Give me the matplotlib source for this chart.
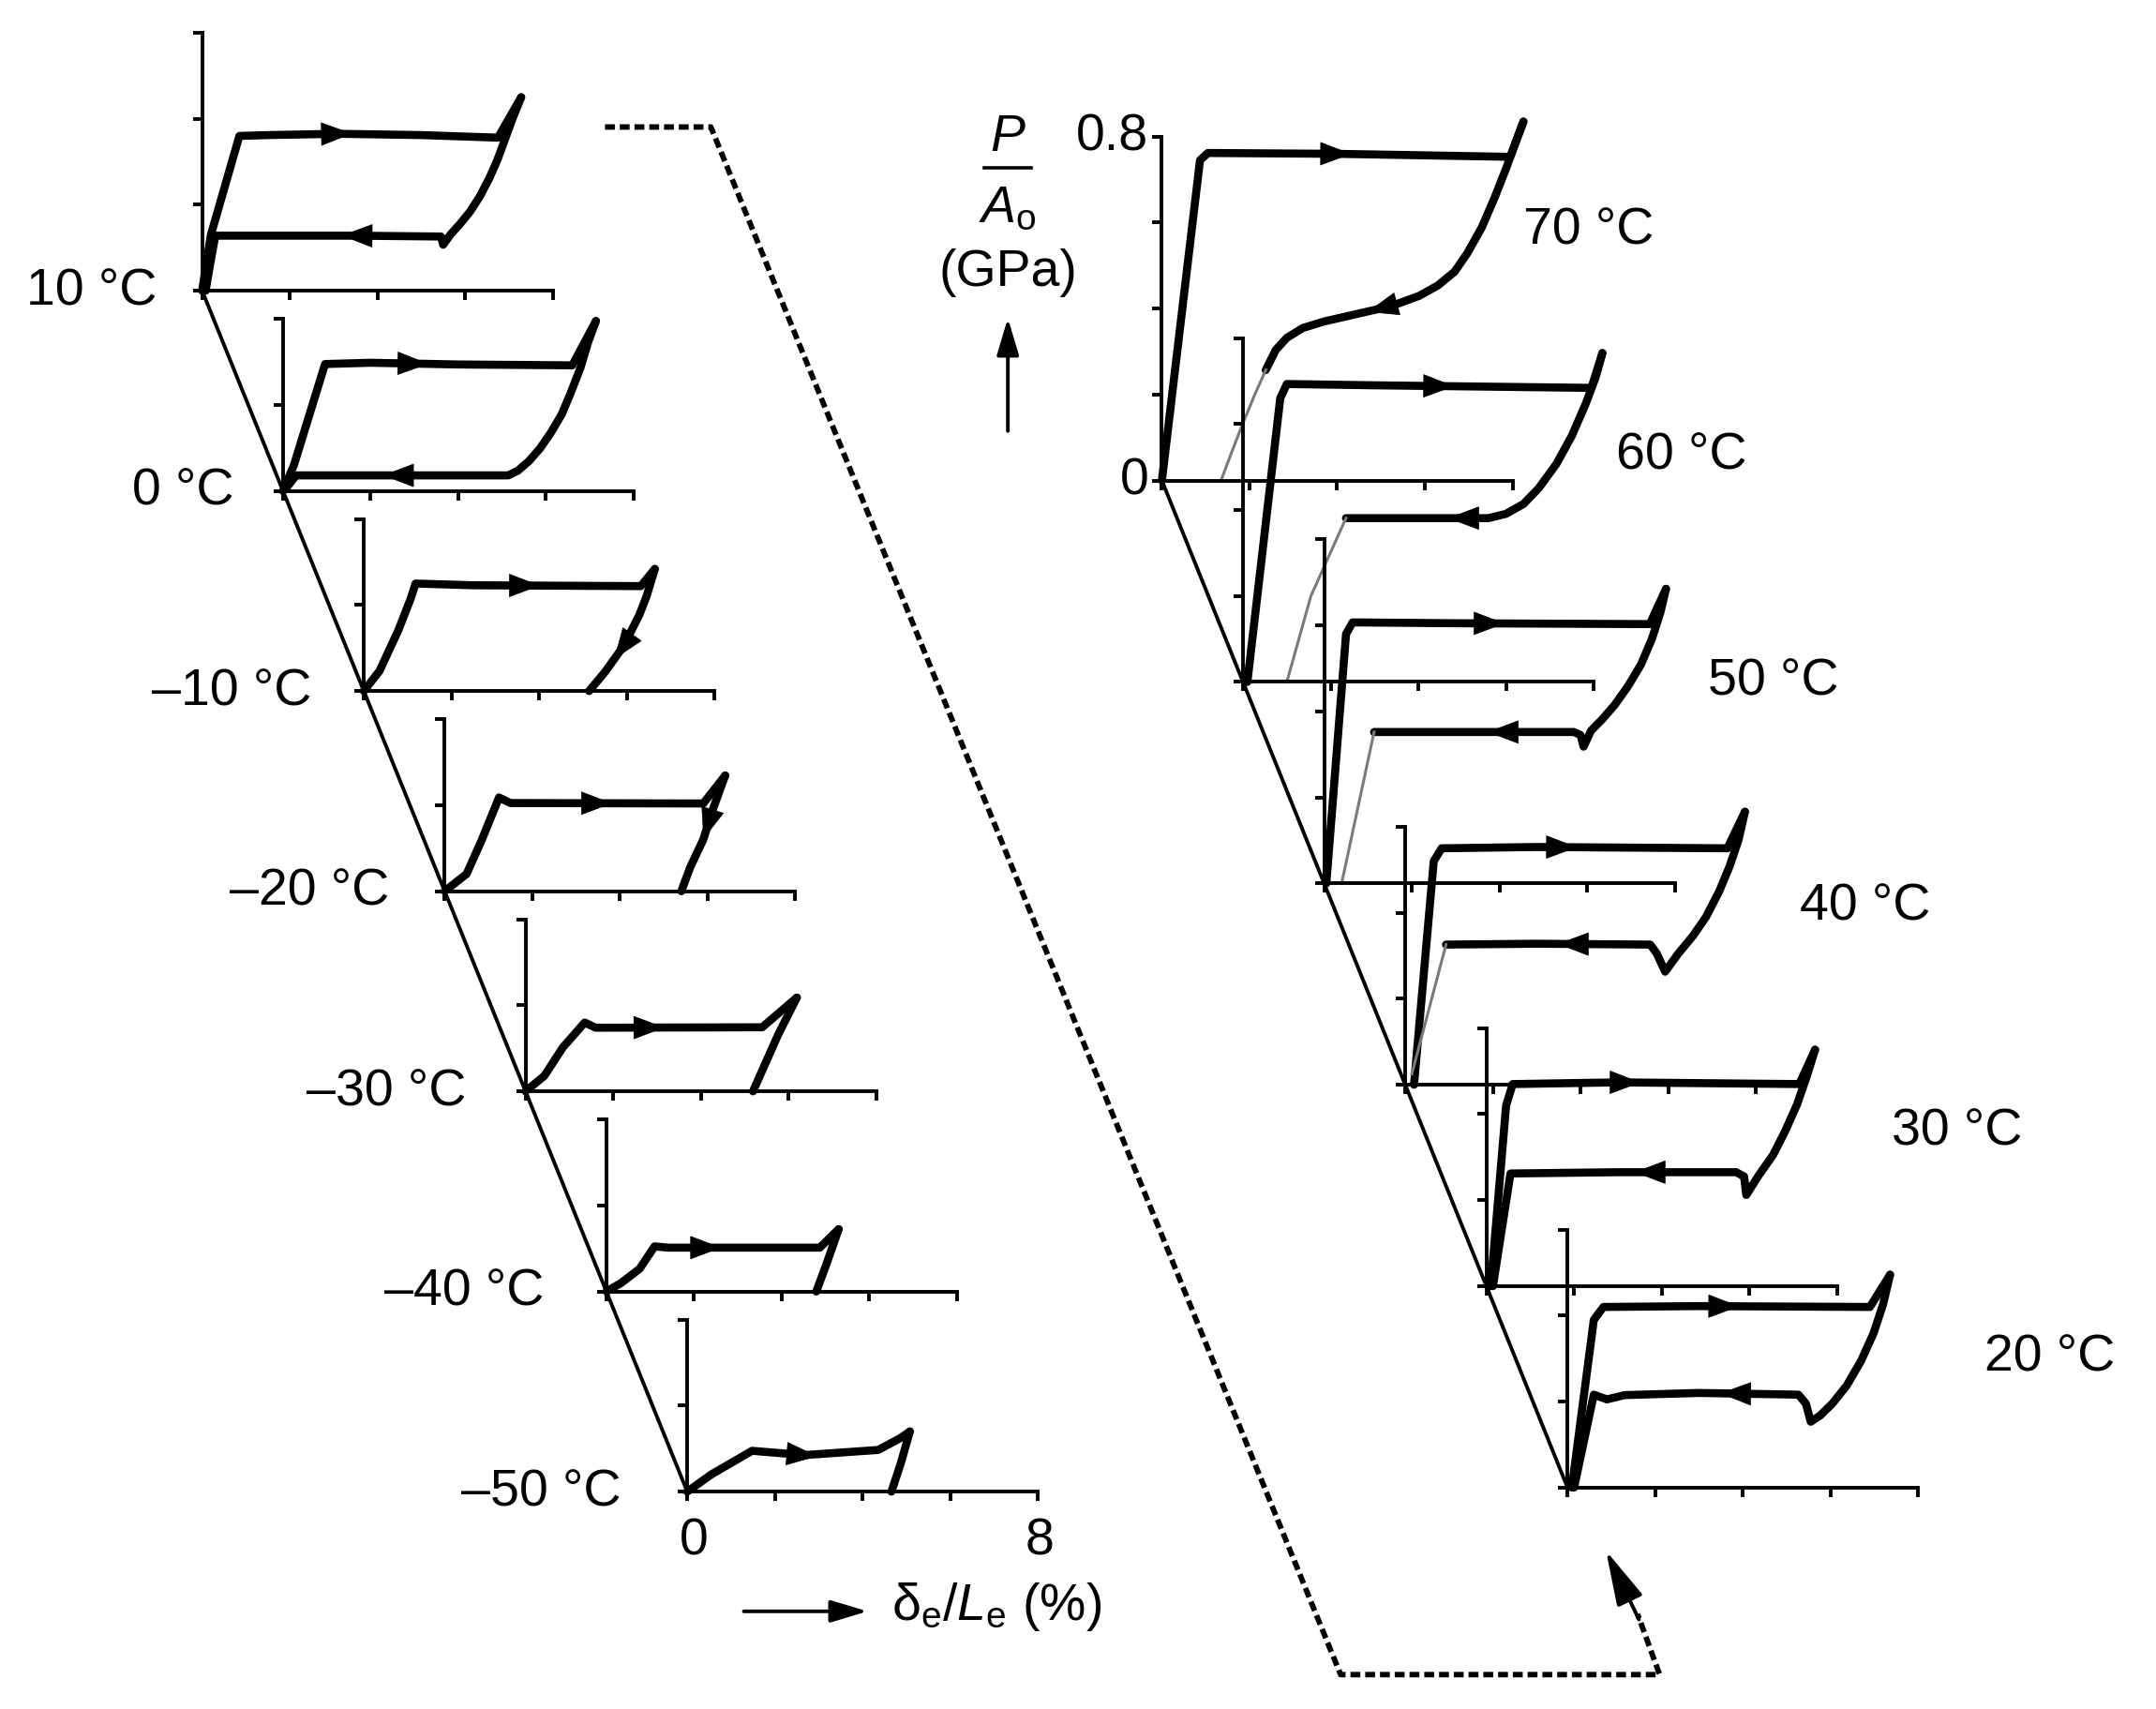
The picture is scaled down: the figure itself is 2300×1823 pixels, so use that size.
import numpy as np
import matplotlib
matplotlib.use('Agg')
import matplotlib.pyplot as plt

plt.rcParams['font.family'] = 'Liberation Sans'
plt.rcParams['mathtext.fontset'] = 'custom'
plt.rcParams['mathtext.rm'] = 'Liberation Sans'
plt.rcParams['mathtext.it'] = 'Liberation Sans:italic'

# temperatures of the stacked panels
left_temps = [10, 0, -10, -20, -30, -40, -50]
right_temps = [70, 60, 50, 40, 30, 20]

# stress-strain loops: (strain %, stress GPa)
load_10 = [(0, 0), (0.2, 0.13), (0.85, 0.36), (1.5, 0.362), (3.1, 0.365), (5.0, 0.362), (6.75, 0.356), (7.28, 0.45)]
unload_10 = [(7.28, 0.45), (7.1, 0.405), (6.92, 0.355), (6.74, 0.305), (6.56, 0.263), (6.34, 0.22), (6.12, 0.185),
             (5.89, 0.156), (5.67, 0.131), (5.5, 0.107), (5.45, 0.126), (3.5, 0.128), (0.3, 0.128), (0.18, 0.06), (0.08, 0)]
load_0 = [(0, 0), (0.25, 0.06), (0.96, 0.295), (2.0, 0.298), (4.0, 0.294), (6.6, 0.292), (7.14, 0.395)]
unload_0 = [(7.14, 0.395), (6.96, 0.345), (6.79, 0.287), (6.57, 0.229), (6.36, 0.178), (6.11, 0.135), (5.86, 0.098),
            (5.61, 0.069), (5.36, 0.047), (5.14, 0.036), (0.3, 0.036), (0.1, 0.01)]
load_m10 = [(0, 0), (0.36, 0.047), (0.79, 0.142), (1.07, 0.215), (1.18, 0.25), (2.5, 0.246), (6.32, 0.244), (6.64, 0.284)]
unload_m10 = [(6.64, 0.284), (6.45, 0.22), (6.29, 0.178), (5.93, 0.105), (5.5, 0.044), (5.14, 0)]
load_m20 = [(0, 0), (0.5, 0.04), (0.85, 0.12), (1.24, 0.218), (1.5, 0.205), (5.9, 0.204), (6.4, 0.269)]
unload_m20 = [(6.4, 0.269), (6.1, 0.185), (5.9, 0.12), (5.6, 0.055), (5.4, 0)]
load_m30 = [(0, 0), (0.43, 0.036), (0.85, 0.102), (1.35, 0.16), (1.6, 0.148), (5.4, 0.149), (6.19, 0.218)]
unload_m30 = [(6.19, 0.218), (5.76, 0.131), (5.19, 0)]
load_m40 = [(0, 0), (0.34, 0.02), (0.76, 0.053), (1.1, 0.105), (1.4, 0.102), (4.87, 0.102), (5.3, 0.145)]
unload_m40 = [(5.3, 0.145), (5.04, 0.069), (4.79, 0)]
load_m50 = [(0, 0), (0.55, 0.04), (1.48, 0.095), (2.67, 0.085), (4.36, 0.097), (4.87, 0.125), (5.08, 0.14)]
unload_m50 = [(5.08, 0.14), (4.87, 0.065), (4.66, 0)]

load_70 = [(0, 0), (0.87, 0.745), (1.05, 0.762), (4.0, 0.76), (7.95, 0.753), (8.25, 0.835)]
unload_70 = [(8.25, 0.835), (8.05, 0.781), (7.85, 0.725), (7.6, 0.66), (7.3, 0.589), (6.97, 0.529), (6.68, 0.486),
             (6.3, 0.454), (5.88, 0.43), (5.4, 0.412), (4.9, 0.398), (4.3, 0.384), (3.7, 0.37), (3.22, 0.355),
             (2.85, 0.332), (2.6, 0.304), (2.37, 0.257)]
grey_70 = [(2.37, 0.257), (2.12, 0.2), (1.82, 0.126), (1.57, 0.06), (1.35, 0)]
load_60 = [(0.1, 0), (0.85, 0.66), (1.0, 0.693), (3.0, 0.69), (7.95, 0.684), (8.2, 0.765)]
unload_60 = [(8.2, 0.765), (8.05, 0.71), (7.82, 0.647), (7.5, 0.572), (7.15, 0.507), (6.75, 0.451), (6.4, 0.414),
             (6.0, 0.391), (5.6, 0.381), (3.54, 0.381), (2.35, 0.381)]
grey_60 = [(2.35, 0.381), (1.55, 0.2), (1.0, 0)]
load_50 = [(0.05, 0), (0.5, 0.58), (0.65, 0.607), (3.0, 0.605), (7.43, 0.603), (7.8, 0.685)]
unload_50 = [(7.8, 0.685), (7.67, 0.629), (7.48, 0.569), (7.23, 0.509), (6.93, 0.458), (6.63, 0.415), (6.34, 0.381),
             (6.09, 0.355), (5.92, 0.318), (5.85, 0.345), (5.7, 0.352), (3.0, 0.352), (1.14, 0.352)]
grey_50 = [(1.14, 0.352), (0.4, 0)]
load_40 = [(0.2, 0), (0.65, 0.52), (0.83, 0.55), (3.0, 0.553), (7.35, 0.55), (7.75, 0.635)]
unload_40 = [(7.75, 0.635), (7.6, 0.568), (7.4, 0.508), (7.16, 0.449), (6.86, 0.39), (6.57, 0.347), (6.23, 0.305),
             (5.93, 0.263), (5.74, 0.305), (5.59, 0.326), (3.0, 0.328), (0.93, 0.326)]
grey_40 = [(0.93, 0.326), (0.15, 0.025)]
load_30 = [(0.1, 0), (0.45, 0.42), (0.6, 0.47), (3.0, 0.474), (7.14, 0.47), (7.5, 0.55)]
unload_30 = [(7.5, 0.55), (7.31, 0.488), (7.09, 0.423), (6.81, 0.359), (6.54, 0.305), (6.21, 0.257), (5.93, 0.212),
             (5.88, 0.255), (5.7, 0.265), (3.0, 0.265), (0.55, 0.262), (0.15, 0)]
load_20 = [(0.1, 0), (0.6, 0.39), (0.82, 0.42), (3.0, 0.422), (6.9, 0.42), (7.36, 0.495)]
unload_20 = [(7.36, 0.495), (7.2, 0.426), (6.98, 0.358), (6.7, 0.295), (6.37, 0.237), (6.04, 0.195), (5.77, 0.168),
             (5.55, 0.153), (5.44, 0.195), (5.27, 0.216), (3.0, 0.22), (1.3, 0.215), (0.9, 0.205), (0.6, 0.216), (0.15, 0)]

loading = {10: load_10, 0: load_0, -10: load_m10, -20: load_m20, -30: load_m30, -40: load_m40, -50: load_m50,
           70: load_70, 60: load_60, 50: load_50, 40: load_40, 30: load_30, 20: load_20}
unloading = {10: unload_10, 0: unload_0, -10: unload_m10, -20: unload_m20, -30: unload_m30, -40: unload_m40,
             -50: unload_m50, 70: unload_70, 60: unload_60, 50: unload_50, 40: unload_40, 30: unload_30, 20: unload_20}
grey_tails = {70: grey_70, 60: grey_60, 50: grey_50, 40: grey_40}

# stress range of each little y axis (GPa)
y_top = {10: 0.6, 0: 0.4, -10: 0.4, -20: 0.4, -30: 0.4, -40: 0.4, -50: 0.4,
         70: 0.8, 60: 0.8, 50: 0.8, 40: 0.6, 30: 0.6, 20: 0.6}

# strain where the direction arrows sit
arrow_load = {10: 3.1, 0: 3.0, -10: 3.7, -20: 3.5, -30: 2.85, -40: 2.3, -50: 2.65,
              70: 4.0, 60: 4.5, 50: 3.8, 40: 3.6, 30: 3.2, 20: 3.6}
arrow_unload = {10: 3.5, 0: 2.6, -10: 5.9, -20: 6.0, 70: 5.0, 60: 5.0, 50: 4.05, 40: 3.8, 30: 3.7, 20: 3.8}

# layout in pixels of a 1568 x 1243 canvas
W, H = 1568, 1243
SX = 255 / 8.0      # px per % strain
SY = 312.5          # px per GPa
LW_AX = 2.8
LW_CURVE = 6.2

fig = plt.figure(figsize=(23, 18.24), dpi=100)
bg = fig.add_axes([0, 0, 1, 1])
bg.set_xlim(0, W)
bg.set_ylim(H, 0)
bg.axis('off')


def make_panel(ox, oy, ymax):
    ax = fig.add_axes([ox / W, 1 - oy / H, 8 * SX / W, ymax * SY / H])
    ax.set_xlim(0, 8)
    ax.set_ylim(0, ymax)
    ax.patch.set_visible(False)
    ax.spines['top'].set_visible(False)
    ax.spines['right'].set_visible(False)
    ax.spines['left'].set_linewidth(LW_AX)
    ax.spines['bottom'].set_linewidth(LW_AX)
    ax.set_xticks([0, 2, 4, 6, 8])
    ax.set_yticks(np.arange(0, ymax + 0.01, 0.2))
    ax.tick_params(direction='out', length=7, width=LW_AX, labelbottom=False, labelleft=False)
    return ax


def arrow_head(ax, pts, x0):
    pts = np.asarray(pts, float)
    for i in range(len(pts) - 1):
        a, b = pts[i], pts[i + 1]
        if a[0] != b[0] and min(a[0], b[0]) <= x0 <= max(a[0], b[0]):
            break
    t = (x0 - a[0]) / (b[0] - a[0])
    p = a + t * (b - a)
    pa, pb, pc = ax.transData.transform([a, b, p])
    d = (pb - pa) / np.hypot(*(pb - pa))
    inv = ax.transData.inverted()
    tip = inv.transform(pc + d * 15)
    tail = inv.transform(pc - d * 15)
    ax.annotate('', xy=tip, xytext=tail, annotation_clip=False,
                arrowprops=dict(arrowstyle='-|>,head_length=0.95,head_width=0.36', color='k', lw=0.5,
                                mutation_scale=24, shrinkA=0, shrinkB=0))


def draw_loop(ax, t):
    for pts in (loading[t], unloading[t]):
        xs, ys = zip(*pts)
        ax.plot(xs, ys, color='k', lw=LW_CURVE, clip_on=False, solid_joinstyle='round', solid_capstyle='round')
    if t in grey_tails:
        xs, ys = zip(*grey_tails[t])
        ax.plot(xs, ys, color='#7a7a7a', lw=2.2, clip_on=False)
    arrow_head(ax, loading[t], arrow_load[t])
    if t in arrow_unload:
        arrow_head(ax, unloading[t], arrow_unload[t])


def label(t):
    return ('\u2013' if t < 0 else '') + f'{abs(t)} \u00b0C'


# left stack
left_orig = [(147 + 58.8 * i, 212 + 145.5 * i) for i in range(len(left_temps))]
bg.plot([left_orig[0][0], left_orig[-1][0]], [left_orig[0][1], left_orig[-1][1]], color='k', lw=LW_AX)
left_axes = []
for i, t in enumerate(left_temps):
    ox, oy = left_orig[i]
    ax = make_panel(ox, oy, y_top[t])
    draw_loop(ax, t)
    left_axes.append(ax)
    bg.text(ox - 33 - 2.5 * i, oy, label(t), fontsize=40, ha='right', va='center')

# right stack
right_orig = [(845 + 59 * i, 350 + 146.4 * i) for i in range(len(right_temps))]
bg.plot([right_orig[0][0], right_orig[-1][0]], [right_orig[0][1], right_orig[-1][1]], color='k', lw=LW_AX)
right_axes = []
for i, t in enumerate(right_temps):
    ox, oy = right_orig[i]
    ax = make_panel(ox, oy, y_top[t])
    draw_loop(ax, t)
    right_axes.append(ax)
    bg.text(1108 + 67 * i, 168 + 163.8 * i, label(t), fontsize=40, ha='left', va='center')

# axis value labels
right_axes[0].text(-0.3, 0.8, '0.8', fontsize=40, ha='right', va='center')
right_axes[0].text(-0.3, 0.0, '0', fontsize=40, ha='right', va='center')
left_axes[-1].text(0.15, -0.115, '0', fontsize=40, ha='center', va='center')
left_axes[-1].text(8.05, -0.115, '8', fontsize=40, ha='center', va='center')

# stress label with arrow
bg.text(733, 100, 'P', fontsize=40, style='italic', ha='center', va='center')
bg.plot([716, 750], [123, 123], color='k', lw=2.6)
bg.text(733, 152, r'$A_\mathrm{o}$', fontsize=40, ha='center', va='center')
bg.text(733, 198, '(GPa)', fontsize=40, ha='center', va='center')
bg.annotate('', xy=(733, 232), xytext=(733, 314),
            arrowprops=dict(arrowstyle='-|>,head_length=1.0,head_width=0.3', lw=2.8, color='k',
                            mutation_scale=24, shrinkA=0, shrinkB=0))

# strain label with arrow
bg.annotate('', xy=(631, 1172), xytext=(541, 1172),
            arrowprops=dict(arrowstyle='-|>,head_length=1.0,head_width=0.3', lw=2.8, color='k',
                            mutation_scale=24, shrinkA=0, shrinkB=0))
bg.text(648, 1168, '$\\mathregular{\u03b4_e}/L_\\mathregular{e}$ (%)', fontsize=40, ha='left', va='center')

# dashed connector between the two stacks
bg.plot([440, 517, 975, 1207, 1191], [93, 93, 1218, 1218, 1174], color='k', lw=4.2, dashes=(1.8, 0.9))
bg.annotate('', xy=(1168, 1128), xytext=(1192, 1178),
            arrowprops=dict(arrowstyle='-|>,head_length=1.5,head_width=0.38', lw=2.8, color='k',
                            mutation_scale=24, shrinkA=0, shrinkB=0))

fig.savefig('out.png', dpi=100)
